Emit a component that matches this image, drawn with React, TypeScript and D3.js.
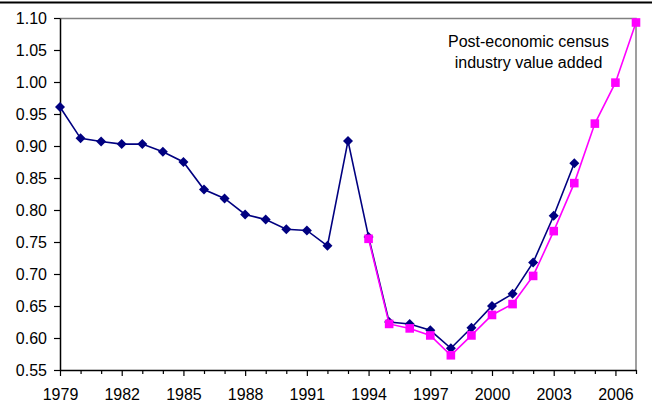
import React, { useEffect, useRef } from "react";
import * as d3 from "d3";

const WIDTH = 654;
const HEIGHT = 418;

// Index of industry value added, two vintages
const originalYears = d3.range(1979, 2005);
const originalValues = [
  0.961, 0.912, 0.907, 0.903, 0.903, 0.891, 0.875, 0.832, 0.818, 0.793,
  0.785, 0.77, 0.768, 0.744, 0.908, 0.758, 0.625, 0.622, 0.612, 0.584,
  0.616, 0.65, 0.669, 0.718, 0.791, 0.873,
];

const revisedYears = d3.range(1994, 2008);
const revisedValues = [
  0.755, 0.622, 0.615, 0.604, 0.573, 0.604, 0.636, 0.653, 0.697, 0.767,
  0.842, 0.935, 0.999, 1.093,
];

const yTicks = [0.55, 0.6, 0.65, 0.7, 0.75, 0.8, 0.85, 0.9, 0.95, 1.0, 1.05, 1.1];
const xLabelYears = [1979, 1982, 1985, 1988, 1991, 1994, 1997, 2000, 2003, 2006];
const noteLines = ["Post-economic census", "industry value added"];

const FONT = "'Liberation Sans', Arial, sans-serif";
const FONT_SIZE = 16;

export default function App() {
  const ref = useRef<SVGSVGElement | null>(null);

  useEffect(() => {
    const margin = { top: 18, right: 18, bottom: 48, left: 60 };
    const width = WIDTH - margin.left - margin.right;
    const height = HEIGHT - margin.top - margin.bottom;

    const svg = d3.select(ref.current);
    svg.selectAll("*").remove();

    // frame line across the top
    svg
      .append("line")
      .attr("x1", 0)
      .attr("x2", 652)
      .attr("y1", 2.5)
      .attr("y2", 2.5)
      .attr("stroke", "#000")
      .attr("stroke-width", 2);

    const g = svg
      .append("g")
      .attr("transform", `translate(${margin.left},${margin.top})`);

    const x = d3.scaleLinear().domain([1979, 2007]).range([0, width]);
    const y = d3.scaleLinear().domain([0.55, 1.1]).range([height, 0]);

    // plot area border (grey, top and right)
    g.append("path")
      .attr("d", `M0,0.5H${width}V${height}`)
      .attr("fill", "none")
      .attr("stroke", "#808080")
      .attr("stroke-width", 1.5);

    // Y axis
    const yAxis = g
      .append("g")
      .call(
        d3
          .axisLeft(y)
          .tickValues(yTicks)
          .tickFormat(d3.format(".2f"))
          .tickSize(6)
          .tickSizeOuter(0)
          .tickPadding(7)
      );
    yAxis.select(".domain").attr("stroke", "#000").attr("stroke-width", 1.5);
    yAxis.selectAll("line").attr("stroke", "#000").attr("stroke-width", 1.2);
    yAxis
      .selectAll("text")
      .attr("font-family", FONT)
      .attr("font-size", FONT_SIZE)
      .attr("fill", "#000");

    // X axis, tick every year, label every third
    const xAxis = g
      .append("g")
      .attr("transform", `translate(0,${height})`)
      .call(
        d3
          .axisBottom(x)
          .tickValues(d3.range(1979, 2008))
          .tickFormat((d) => (xLabelYears.includes(+d) ? String(d) : ""))
          .tickSize(5)
          .tickSizeOuter(0)
          .tickPadding(14)
      );
    xAxis.select(".domain").attr("stroke", "#000").attr("stroke-width", 1.5);
    xAxis
      .selectAll(".tick line")
      .attr("stroke", "#000")
      .attr("stroke-width", 1.2)
      .attr("y2", (d: any) => (xLabelYears.includes(+d) ? 6 : 4));
    xAxis
      .selectAll("text")
      .attr("font-family", FONT)
      .attr("font-size", FONT_SIZE)
      .attr("fill", "#000");

    const line = d3
      .line<[number, number]>()
      .x((d) => x(d[0]))
      .y((d) => y(d[1]));

    const original = originalYears.map((yr, i) => [yr, originalValues[i]] as [number, number]);
    const revised = revisedYears.map((yr, i) => [yr, revisedValues[i]] as [number, number]);

    // original series: navy with diamonds
    g.append("path")
      .datum(original)
      .attr("fill", "none")
      .attr("stroke", "#000080")
      .attr("stroke-width", 1.6)
      .attr("d", line);

    g.selectAll(".diamond")
      .data(original)
      .enter()
      .append("path")
      .attr("class", "diamond")
      .attr("transform", (d) => `translate(${x(d[0])},${y(d[1])})`)
      .attr("d", "M0,-5L5,0L0,5L-5,0Z")
      .attr("fill", "#000080");

    // revised series: magenta with squares
    g.append("path")
      .datum(revised)
      .attr("fill", "none")
      .attr("stroke", "#ff00ff")
      .attr("stroke-width", 1.6)
      .attr("d", line);

    g.selectAll(".square")
      .data(revised)
      .enter()
      .append("rect")
      .attr("class", "square")
      .attr("x", (d) => x(d[0]) - 4.3)
      .attr("y", (d) => y(d[1]) - 4.3)
      .attr("width", 8.6)
      .attr("height", 8.6)
      .attr("fill", "#ff00ff");

    // note
    svg
      .append("g")
      .selectAll("text")
      .data(noteLines)
      .enter()
      .append("text")
      .attr("x", 528.5)
      .attr("y", (_, i) => 46.7 + i * 21.6)
      .attr("text-anchor", "middle")
      .attr("font-family", FONT)
      .attr("font-size", FONT_SIZE)
      .attr("fill", "#000")
      .text((d) => d);
  }, []);

  return (
    <svg
      ref={ref}
      width={WIDTH}
      height={HEIGHT}
      style={{ position: "absolute", left: 0, top: 0, background: "#fff" }}
    />
  );
}
